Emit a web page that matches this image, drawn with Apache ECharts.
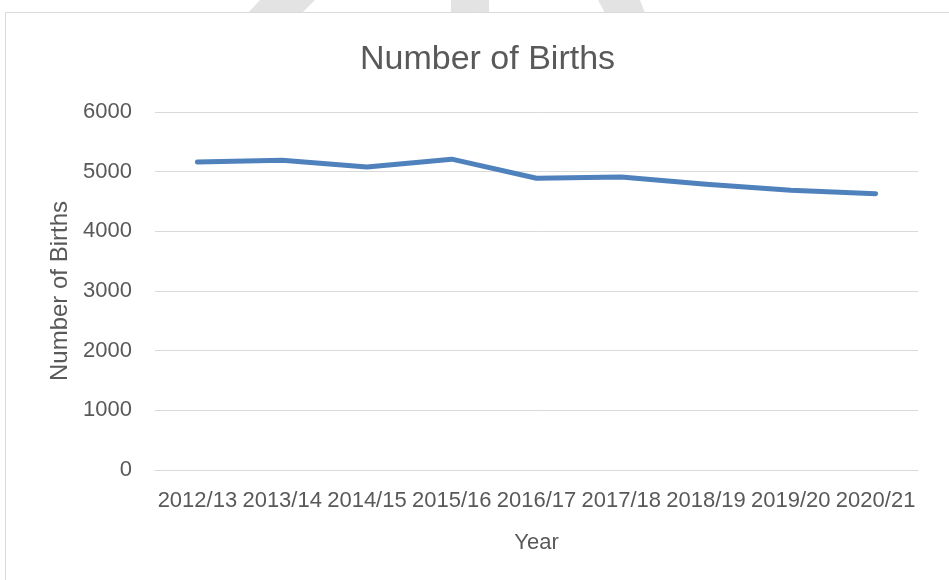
<!DOCTYPE html>
<html>
<head>
<meta charset="utf-8">
<script src="https://cdn.jsdelivr.net/npm/echarts@6/dist/echarts.min.js"></script>
<style>
  html, body { margin: 0; padding: 0; background: #fff; }
  #main { width: 949px; height: 580px; }
</style>
</head>
<body>
<div id="main"></div>
<script>
// births per year
var years = ['2012/13', '2013/14', '2014/15', '2015/16', '2016/17', '2017/18', '2018/19', '2019/20', '2020/21'];
var births = [5160, 5190, 5080, 5210, 4890, 4910, 4790, 4690, 4630];
var yTicks = [0, 1000, 2000, 3000, 4000, 5000, 6000];

var font = 'Liberation Sans';
var textColor = '#595959';

var chart = echarts.init(document.getElementById('main'), null, { renderer: 'canvas' });

var option = {
  backgroundColor: '#fff',
  animation: false,
  graphic: [
    // faint watermark bits showing above the chart frame
    { type: 'polygon', z: 0, shape: { points: [[260, 0], [315, 0], [302, 13], [248, 13]] }, style: { fill: '#e3e3e3' } },
    { type: 'polygon', z: 0, shape: { points: [[451, 0], [489, 0], [489, 13], [451, 13]] }, style: { fill: '#e3e3e3' } },
    { type: 'polygon', z: 0, shape: { points: [[598, 0], [640, 0], [645, 13], [605, 13]] }, style: { fill: '#e3e3e3' } },
    // chart frame
    { type: 'rect', z: 0, shape: { x: 5.5, y: 12.5, width: 1000, height: 700 }, style: { fill: '#fff', stroke: '#d9d9d9', lineWidth: 1 } }
  ],
  title: {
    text: 'Number of Births',
    left: 355,
    top: 38,
    textStyle: { fontFamily: font, fontSize: 34, fontWeight: 'normal', color: textColor }
  },
  grid: { left: 155, right: 31, top: 112, bottom: 110 },
  xAxis: {
    type: 'category',
    data: years,
    boundaryGap: true,
    name: 'Year',
    nameLocation: 'middle',
    nameGap: 62,
    nameTextStyle: { fontFamily: font, fontSize: 22, color: textColor },
    axisLine: { show: true, lineStyle: { color: '#d9d9d9', width: 1 } },
    axisTick: { show: false },
    axisLabel: { interval: 0, margin: 20, fontFamily: font, fontSize: 22, color: textColor }
  },
  yAxis: {
    type: 'value',
    min: yTicks[0],
    max: yTicks[yTicks.length - 1],
    interval: 1000,
    name: 'Number of Births',
    nameLocation: 'middle',
    nameGap: 72,
    nameTextStyle: { fontFamily: font, fontSize: 24, color: textColor },
    axisLine: { show: false },
    axisTick: { show: false },
    axisLabel: {
      margin: 23, fontFamily: font, fontSize: 22, color: textColor,
      formatter: function (v) { return String(v); }
    },
    splitLine: { lineStyle: { color: '#d9d9d9', width: 1 } }
  },
  series: [{
    type: 'line',
    data: births,
    symbol: 'none',
    lineStyle: { color: '#4f81bd', width: 5, cap: 'round', join: 'round' },
    itemStyle: { color: '#4f81bd' }
  }]
};

chart.setOption(option);
</script>
</body>
</html>
